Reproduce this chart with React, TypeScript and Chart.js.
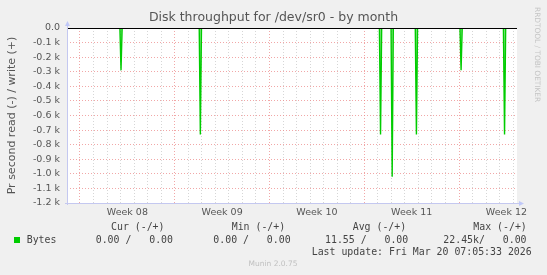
import React, { useEffect, useRef } from "react";
import { Chart, registerables } from "chart.js";

Chart.register(...registerables);

// ---- data ----
const titleText = "Disk throughput for /dev/sr0 - by month";
const yAxisTitle = "Pr second read (-) / write (+)";
const weekLabels = ["Week 08", "Week 09", "Week 10", "Week 11", "Week 12"];
// time axis in days, 0 = start of Week 08
const xStart = -0.96;
const xEnd = 32.28;
const sampleStep = 1 / 12; // 2-hour consolidation step
const spikeDays = [3.03, 8.89, 22.2, 23.06, 24.85, 28.15, 31.36];
const readValues = [-290, -730, -730, -1020, -730, -290, -730];
const yMin = -1200;
const yMax = 0;
const yStep = 100;
const seriesName = "Bytes";
const legendHeaders = ["Cur (-/+)", "Min (-/+)", "Avg (-/+)", "Max (-/+)"];
const legendValues = ["0.00 /   0.00", "0.00 /   0.00", "11.55 /   0.00", "22.45k/   0.00"];
const lastUpdate = "Last update: Fri Mar 20 07:05:33 2026";
const sideText = "RRDTOOL / TOBI OETIKER";
const footerText = "Munin 2.0.75";

const GREEN = "#00cc00";
const AXIS = "#c4c8f0";
const MAJOR = "rgba(235,130,130,0.7)";
const MINOR = "rgba(180,180,180,0.55)";

function buildReadPoints() {
  const pts: { x: number; y: number }[] = [{ x: xStart, y: 0 }];
  spikeDays.forEach((d, i) => {
    pts.push({ x: d - sampleStep, y: 0 });
    pts.push({ x: d, y: readValues[i] });
    pts.push({ x: d + sampleStep, y: 0 });
  });
  pts.push({ x: xEnd, y: 0 });
  return pts;
}

const decor = {
  id: "decor",
  beforeDraw(chart: any) {
    const { ctx, chartArea: a, width, height } = chart;
    ctx.save();
    ctx.fillStyle = "#f0f0f0";
    ctx.fillRect(0, 0, width, height);
    ctx.fillStyle = "#ffffff";
    ctx.fillRect(a.left, a.top, a.right - a.left, a.bottom - a.top);
    ctx.restore();
  },
  afterDraw(chart: any) {
    const { ctx, chartArea: a } = chart;
    ctx.save();
    // zero line
    const y0 = Math.round(chart.scales.y.getPixelForValue(0)) + 0.5;
    ctx.strokeStyle = "#000";
    ctx.lineWidth = 1;
    ctx.setLineDash([]);
    ctx.beginPath();
    ctx.moveTo(a.left, y0);
    ctx.lineTo(a.right, y0);
    ctx.stroke();
    // axes
    ctx.strokeStyle = AXIS;
    ctx.beginPath();
    ctx.moveTo(a.left + 0.5, a.bottom + 2);
    ctx.lineTo(a.left + 0.5, a.top - 4);
    ctx.moveTo(a.left - 2, a.bottom + 0.5);
    ctx.lineTo(a.right + 4, a.bottom + 0.5);
    ctx.stroke();
    ctx.fillStyle = "#c0c8f8";
    ctx.beginPath();
    ctx.moveTo(a.left - 2, a.top - 2);
    ctx.lineTo(a.left + 3, a.top - 2);
    ctx.lineTo(a.left + 0.5, a.top - 7);
    ctx.closePath();
    ctx.fill();
    ctx.beginPath();
    ctx.moveTo(a.right + 2, a.bottom - 2);
    ctx.lineTo(a.right + 2, a.bottom + 3);
    ctx.lineTo(a.right + 7, a.bottom + 0.5);
    ctx.closePath();
    ctx.fill();

    // title
    ctx.fillStyle = "#555";
    ctx.font = '12.5px "DejaVu Sans"';
    ctx.textAlign = "center";
    ctx.textBaseline = "middle";
    ctx.fillText(titleText, 273.5, 18);

    // side text
    ctx.save();
    ctx.translate(537, 7);
    ctx.rotate(Math.PI / 2);
    ctx.fillStyle = "#c4c4c4";
    ctx.font = '7.4px "DejaVu Sans"';
    ctx.textAlign = "left";
    ctx.textBaseline = "middle";
    ctx.fillText(sideText, 0, 0);
    ctx.restore();

    // legend
    ctx.font = '9.9px "DejaVu Sans Mono"';
    ctx.fillStyle = "#444";
    ctx.textAlign = "left";
    ctx.textBaseline = "middle";
    const headerX = [111, 231.7, 352.7, 473.3];
    const valueX = [95.7, 213.3, 325, 443.3];
    legendHeaders.forEach((h, i) => ctx.fillText(h, headerX[i], 227.5));
    legendValues.forEach((v, i) => ctx.fillText(v, valueX[i], 240));
    ctx.fillText(seriesName, 26.7, 240);
    ctx.fillText(lastUpdate, 311.7, 252);
    ctx.fillStyle = GREEN;
    ctx.fillRect(14, 237, 6, 6);

    // footer
    ctx.fillStyle = "#c0c0c0";
    ctx.font = '7.5px "DejaVu Sans"';
    ctx.textAlign = "center";
    ctx.fillText(footerText, 273, 264);
    ctx.restore();
  },
};

export default function App() {
  const ref = useRef<HTMLCanvasElement | null>(null);

  useEffect(() => {
    document.body.style.margin = "0";
    const canvas = ref.current;
    if (!canvas) return;
    const chart = new Chart(canvas, {
      type: "line",
      data: {
        datasets: [
          {
            label: seriesName,
            data: buildReadPoints(),
            borderColor: GREEN,
            borderWidth: 1.4,
            backgroundColor: "rgba(0,204,0,0.45)",
            fill: "origin",
            pointRadius: 0,
            tension: 0,
          },
        ],
      },
      options: {
        animation: false,
        responsive: false,
        devicePixelRatio: 1,
        layout: { padding: { top: 28, right: 30, left: 0, bottom: 0 } },
        plugins: { legend: { display: false }, tooltip: { enabled: false }, title: { display: false } },
        scales: {
          x: {
            type: "linear",
            min: xStart,
            max: xEnd,
            afterBuildTicks: (scale: any) => {
              const t: { value: number }[] = [];
              for (let v = Math.ceil(xStart * 2) / 2; v <= xEnd; v += 0.5) t.push({ value: v });
              scale.ticks = t;
            },
            afterFit: (scale: any) => {
              scale.height = 72;
              scale.paddingLeft = 0;
              scale.paddingRight = 0;
            },
            ticks: {
              autoSkip: false,
              maxRotation: 0,
              padding: 4,
              color: "#555",
              font: { family: "DejaVu Sans", size: 9.5 },
              callback: (value: any) => {
                const v = Number(value);
                const k = (v - 3.5) / 7;
                if (Number.isInteger(k) && k >= 0 && k < weekLabels.length) return weekLabels[k];
                return "";
              },
            },
            grid: {
              drawTicks: false,
              lineWidth: 1,
              color: (c: any) => {
                const v = c.tick ? c.tick.value : 0;
                if (!Number.isInteger(v)) return "rgba(0,0,0,0)";
                return v % 7 === 0 ? MAJOR : MINOR;
              },
            },
            border: { display: false, dash: [1, 2] },
          },
          y: {
            type: "linear",
            min: yMin,
            max: yMax,
            afterFit: (scale: any) => {
              scale.width = 67;
              scale.paddingTop = 0;
              scale.paddingBottom = 0;
            },
            ticks: {
              stepSize: yStep,
              padding: 7,
              color: "#555",
              font: { family: "DejaVu Sans", size: 9.5 },
              callback: (value: any) => {
                const v = Number(value);
                if (v === 0) return "0.0";
                return (v / 1000).toFixed(1) + " k";
              },
            },
            title: {
              display: true,
              text: yAxisTitle,
              color: "#555",
              font: { family: "DejaVu Sans", size: 11 },
              padding: { top: 6, bottom: 0 },
            },
            grid: { drawTicks: false, lineWidth: 1, color: MAJOR },
            border: { display: false, dash: [1, 2] },
          },
        },
      },
      plugins: [decor],
    });
    return () => chart.destroy();
  }, []);

  return (
    <div style={{ width: 547, height: 275 }}>
      <canvas ref={ref} width={547} height={275} style={{ display: "block", width: 547, height: 275 }} />
    </div>
  );
}
